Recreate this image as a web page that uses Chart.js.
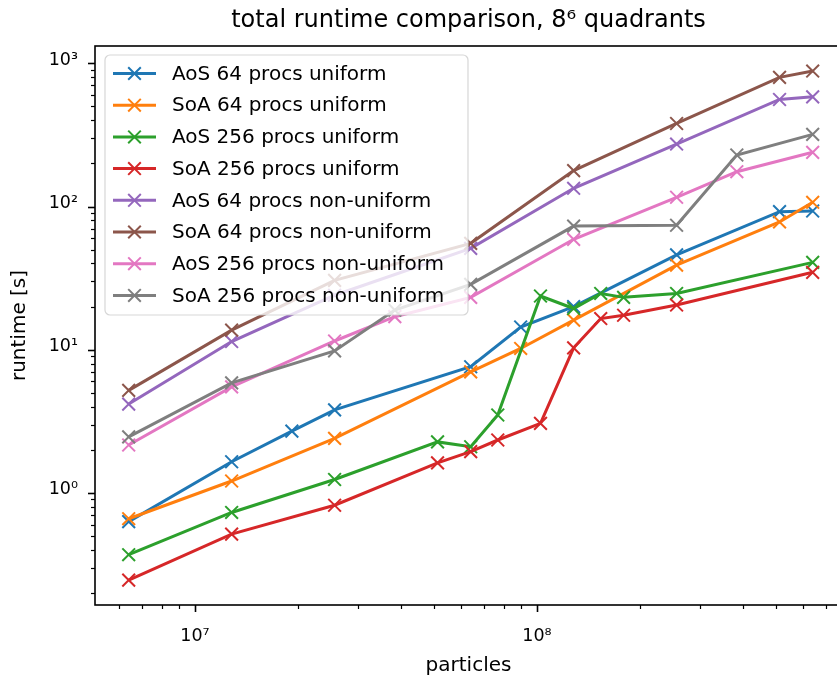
<!DOCTYPE html>
<html lang="en">
<head>
<meta charset="UTF-8">
<title>total runtime comparison</title>
<script src="https://cdn.jsdelivr.net/npm/chart.js"></script>
<style>
    html, body { margin: 0; padding: 0; overflow: hidden; background: #fff; }
    canvas { display: block; }
</style>
</head>
<body>
<canvas id="grafico" width="842" height="680"></canvas>
<script>
    // eixos x de cada grupo de medidas (particulas)
    const particulasAos64 = [6.4e6, 1.28e7, 1.92e7, 2.56e7, 6.4e7, 8.96e7, 1.28e8, 2.56e8, 5.12e8, 6.4e8];
    const particulasSoa64 = [6.4e6, 1.28e7, 2.56e7, 6.4e7, 8.96e7, 1.28e8, 2.56e8, 5.12e8, 6.4e8];
    const particulasUni256 = [6.4e6, 1.28e7, 2.56e7, 5.12e7, 6.4e7, 7.68e7, 1.024e8, 1.28e8, 1.536e8, 1.792e8, 2.56e8, 6.4e8];
    const particulasNaoUni64 = [6.4e6, 1.28e7, 2.56e7, 6.4e7, 1.28e8, 2.56e8, 5.12e8, 6.4e8];
    const particulasNaoUni256 = [6.4e6, 1.28e7, 2.56e7, 3.84e7, 6.4e7, 1.28e8, 2.56e8, 3.84e8, 6.4e8];

    // tempos em segundos
    const tempoAos64 = [0.63, 1.65, 2.7, 3.8, 7.6, 14.4, 20, 46, 92, 93];
    const tempoSoa64 = [0.66, 1.21, 2.4, 7.0, 10.2, 16.1, 39, 78, 107];
    const tempoAos256 = [0.37, 0.73, 1.24, 2.27, 2.1, 3.5, 23.7, 19.4, 24.7, 23.2, 24.7, 40.7];
    const tempoSoa256 = [0.246, 0.515, 0.82, 1.62, 1.94, 2.34, 3.06, 10.3, 16.5, 17.4, 20.5, 34.7];
    const tempoAos64NaoUni = [4.17, 11.4, 24, 51, 134, 273, 559, 583];
    const tempoSoa64NaoUni = [5.2, 13.7, 30.5, 55.3, 178, 380, 798, 883];
    const tempoAos256NaoUni = [2.16, 5.5, 11.5, 17, 23.2, 59, 116, 175, 239];
    const tempoSoa256NaoUni = [2.46, 5.87, 9.8, 18.9, 28.6, 73, 74, 229, 319];

    const rotulos = [
        'AoS 64 procs uniform', 'SoA 64 procs uniform',
        'AoS 256 procs uniform', 'SoA 256 procs uniform',
        'AoS 64 procs non-uniform', 'SoA 64 procs non-uniform',
        'AoS 256 procs non-uniform', 'SoA 256 procs non-uniform'
    ];
    const cores = ['#1f77b4', '#ff7f0e', '#2ca02c', '#d62728', '#9467bd', '#8c564b', '#e377c2', '#7f7f7f'];

    const ticksX = [1e7, 1e8];
    const ticksY = [1, 10, 100, 1000];

    const series = [
        [particulasAos64, tempoAos64],
        [particulasSoa64, tempoSoa64],
        [particulasUni256, tempoAos256],
        [particulasUni256, tempoSoa256],
        [particulasNaoUni64, tempoAos64NaoUni],
        [particulasNaoUni64, tempoSoa64NaoUni],
        [particulasNaoUni256, tempoAos256NaoUni],
        [particulasNaoUni256, tempoSoa256NaoUni]
    ];

    const fonte = "'DejaVu Sans', sans-serif";
    Chart.defaults.font.family = fonte;
    Chart.defaults.color = '#000';

    const expoentes = { '-': '⁻', '0': '⁰', '1': '¹', '2': '²', '3': '³', '4': '⁴', '5': '⁵', '6': '⁶', '7': '⁷', '8': '⁸', '9': '⁹' };
    function potencia(v) {
        const e = String(Math.round(Math.log10(v)));
        return '10' + e.split('').map(c => expoentes[c]).join('');
    }

    const dados = {
        datasets: series.map((s, i) => ({
            label: rotulos[i],
            data: s[0].map((x, j) => ({ x: x, y: s[1][j] })),
            borderColor: cores[i],
            backgroundColor: cores[i],
            borderWidth: 3,
            pointStyle: 'crossRot',
            pointRadius: 9,
            pointBorderWidth: 2,
            pointBorderColor: cores[i],
            tension: 0,
            fill: false,
            order: series.length - i
        }))
    };

    // moldura, tracinhos dos eixos log, titulo e legenda no estilo matplotlib
    const estiloMpl = {
        id: 'estiloMpl',
        afterDatasetsDraw(chart) {
            const ctx = chart.ctx;
            const a = chart.chartArea;
            const sx = chart.scales.x, sy = chart.scales.y;
            ctx.save();
            ctx.strokeStyle = '#000';

            for (let e = -2; e <= 9; e++) {
                for (let k = 1; k <= 9; k++) {
                    const v = k * Math.pow(10, e);
                    const tam = k === 1 ? 7 : 4;
                    ctx.lineWidth = k === 1 ? 1.6 : 1.2;
                    if (v >= sx.min && v <= sx.max) {
                        const px = Math.round(sx.getPixelForValue(v)) + 0.5;
                        ctx.beginPath();
                        ctx.moveTo(px, a.bottom);
                        ctx.lineTo(px, a.bottom + tam);
                        ctx.stroke();
                    }
                    if (v >= sy.min && v <= sy.max) {
                        const py = Math.round(sy.getPixelForValue(v)) + 0.5;
                        ctx.beginPath();
                        ctx.moveTo(a.left, py);
                        ctx.lineTo(a.left - tam, py);
                        ctx.stroke();
                    }
                }
            }

            ctx.lineWidth = 1.6;
            ctx.strokeRect(a.left, a.top, a.right - a.left, a.bottom - a.top);

            // titulo
            ctx.fillStyle = '#000';
            ctx.font = '24px ' + fonte;
            ctx.textAlign = 'center';
            ctx.textBaseline = 'middle';
            ctx.fillText('total runtime comparison, 8⁶ quadrants', (a.left + a.right) / 2, 21);

            // legenda
            const lx = a.left + 10, ly = a.top + 9, lw = 363, lh = 260;
            ctx.beginPath();
            ctx.roundRect(lx, ly, lw, lh, 5);
            ctx.fillStyle = 'rgba(255,255,255,0.8)';
            ctx.fill();
            ctx.lineWidth = 1.2;
            ctx.strokeStyle = 'rgba(204,204,204,0.8)';
            ctx.stroke();

            ctx.font = '20px ' + fonte;
            ctx.textAlign = 'left';
            chart.data.datasets.forEach((d, i) => {
                const cy = ly + 18.5 + i * 31.7;
                ctx.strokeStyle = d.borderColor;
                ctx.lineWidth = 3;
                ctx.beginPath();
                ctx.moveTo(lx + 8, cy);
                ctx.lineTo(lx + 51, cy);
                ctx.stroke();
                ctx.lineWidth = 2;
                const cx = lx + 29.5, r = 6.3;
                ctx.beginPath();
                ctx.moveTo(cx - r, cy - r); ctx.lineTo(cx + r, cy + r);
                ctx.moveTo(cx - r, cy + r); ctx.lineTo(cx + r, cy - r);
                ctx.stroke();
                ctx.fillStyle = '#000';
                ctx.fillText(d.label, lx + 67, cy + 1);
            });
            ctx.restore();
        }
    };

    const opcoes = {
        responsive: false,
        animation: false,
        devicePixelRatio: 1,
        layout: { autoPadding: false, padding: { top: 46, left: 0, right: 0, bottom: 0 } },
        plugins: {
            legend: { display: false },
            title: { display: false },
            tooltip: { enabled: false }
        },
        scales: {
            x: {
                type: 'logarithmic',
                min: 5.101e6,
                max: 7.796e8,
                grid: { display: false, drawTicks: false },
                border: { display: false },
                afterBuildTicks: (s) => { s.ticks = ticksX.map(v => ({ value: v })); },
                afterFit: (s) => {
                    s.height = 75;
                    s.paddingLeft = 0;
                    s.paddingRight = 0;
                },
                ticks: {
                    autoSkip: false,
                    maxRotation: 0,
                    padding: 21,
                    font: { size: 17.5 },
                    callback: (v) => potencia(v)
                },
                title: {
                    display: true,
                    text: 'particles',
                    font: { size: 20 },
                    padding: { top: 0, bottom: 2 }
                }
            },
            y: {
                type: 'logarithmic',
                min: 0.1648,
                max: 1321,
                grid: { display: false, drawTicks: false },
                border: { display: false },
                afterBuildTicks: (s) => { s.ticks = ticksY.map(v => ({ value: v })); },
                afterFit: (s) => {
                    s.width = 95;
                    s.paddingTop = 0;
                    s.paddingBottom = 0;
                },
                ticks: {
                    autoSkip: false,
                    padding: 17,
                    labelOffset: -3,
                    font: { size: 17.5 },
                    callback: (v) => potencia(v)
                },
                title: {
                    display: true,
                    text: 'runtime [s]',
                    font: { size: 20 },
                    padding: { top: 8, bottom: 0 }
                }
            }
        }
    };

    const myChart = new Chart(document.getElementById('grafico'), {
        type: 'line',
        data: dados,
        options: opcoes,
        plugins: [estiloMpl]
    });
</script>
</body>
</html>
